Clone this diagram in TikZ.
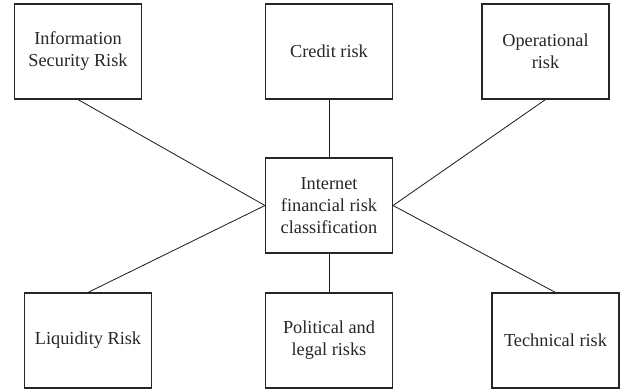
\documentclass[tikz,border=0pt]{standalone}
\usepackage{fontspec}
\setmainfont{Liberation Serif}
\begin{document}
\begin{tikzpicture}[x=1pt,y=-1pt,
  box/.style={draw=black!85, line width=1.1pt, minimum width=127pt, minimum height=95pt,
    align=center, inner sep=2pt, text=black!85,
    font=\fontsize{18.3}{22}\selectfont},
  conn/.style={draw=black!90, line width=0.8pt}]
\useasboundingbox (0,0) rectangle (621,389);
\node[box] (isr) at (78,51.5) {Information\\Security Risk};
\node[box] (cr) at (329,51.5) {Credit risk};
\node[box] (op) at (545.5,51.5) {Operational\\risk};
\node[box] (c) at (329,205.5) {Internet\\financial risk\\classification};
\node[box] (liq) at (88,340.5) {Liquidity Risk};
\node[box] (pol) at (329,340.5) {Political and\\legal risks};
\node[box] (tech) at (555.5,340.5) {Technical risk};
\draw[conn] (c.west) -- (isr.south);
\draw[conn] (c.west) -- (liq.north);
\draw[conn] (c.east) -- (op.south);
\draw[conn] (c.east) -- (tech.north);
\draw[conn] (c.north) -- (cr.south);
\draw[conn] (c.south) -- (pol.north);
\end{tikzpicture}
\end{document}
